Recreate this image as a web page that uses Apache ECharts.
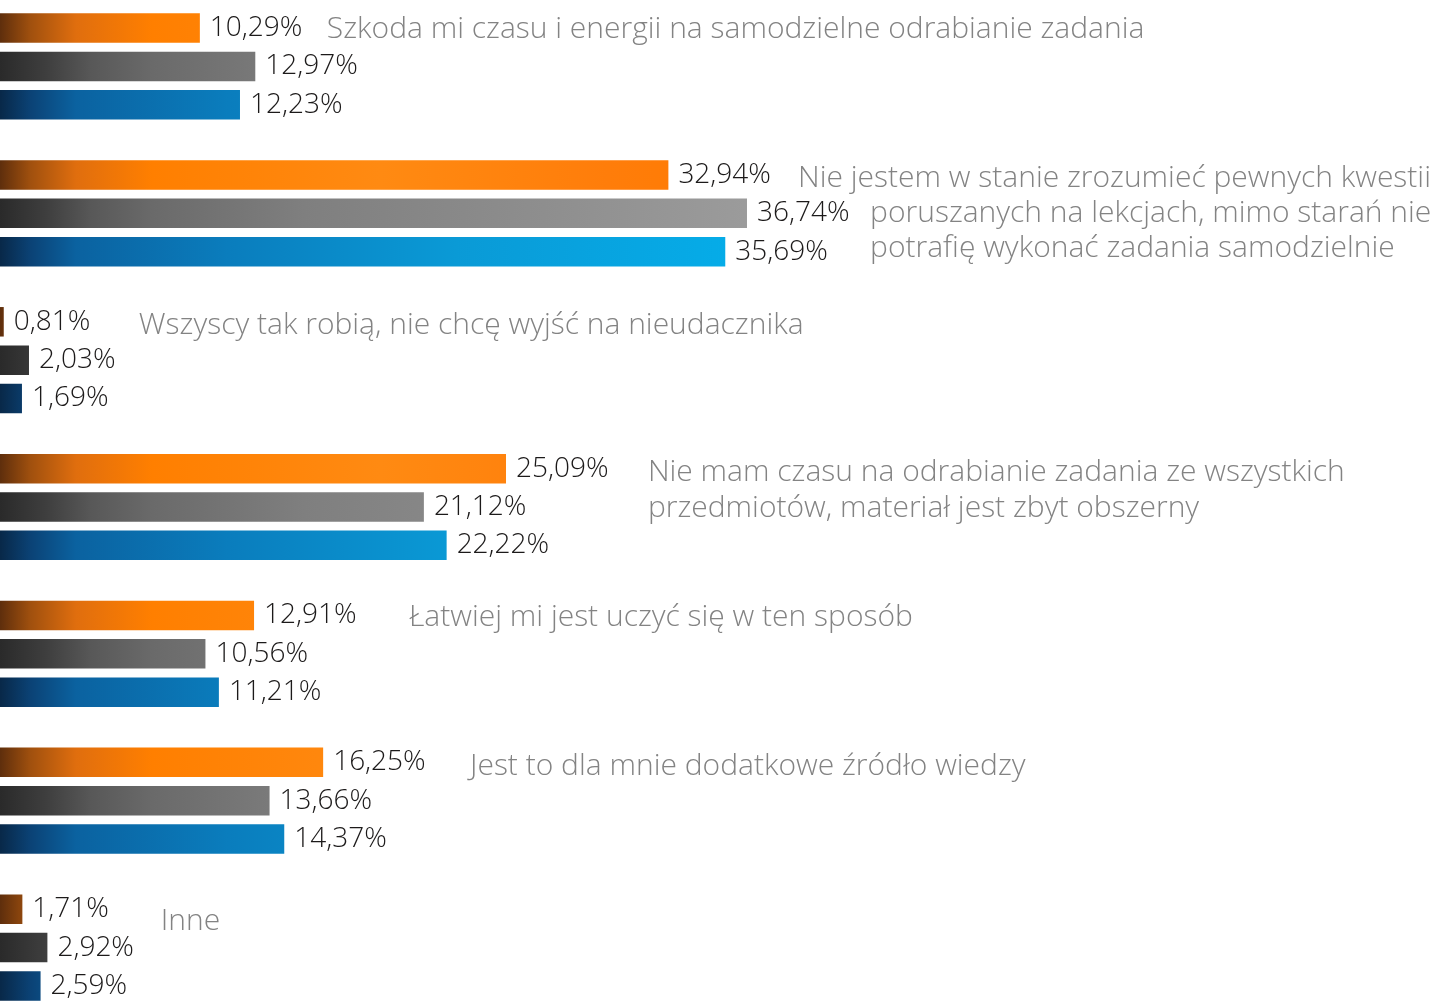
<!DOCTYPE html>
<html>
<head>
<meta charset="utf-8">
<script src="https://cdn.jsdelivr.net/npm/echarts@6/dist/echarts.min.js"></script>
<style>
  html, body { margin: 0; padding: 0; background: #ffffff; overflow: hidden; width: 1445px; height: 1001px; }
  /* bars run in from just beyond the left edge; the last band runs past the bottom */
  #chart { position: absolute; left: -13px; top: -7px; width: 1458px; height: 1028px; }
</style>
</head>
<body>
<div id="chart"></div>
<script>
// Answer categories (one band per answer)
const categories = ['Szkoda', 'Nie rozumiem', 'Wszyscy', 'Brak czasu', 'Łatwiej', 'Źródło wiedzy', 'Inne'];

// Shares in percent for the three respondent groups
const orangeValues = [10.29, 32.94, 0.81, 25.09, 12.91, 16.25, 1.71];
const grayValues   = [12.97, 36.74, 2.03, 21.12, 10.56, 13.66, 2.92];
const blueValues   = [12.23, 35.69, 1.69, 22.22, 11.21, 14.37, 2.59];

// Description text for each answer, one entry per printed line
const descriptions = [
  ['Szkoda mi czasu i energii na samodzielne odrabianie zadania'],
  ['Nie jestem w stanie zrozumieć pewnych kwestii',
   'poruszanych na lekcjach, mimo starań nie',
   'potrafię wykonać zadania samodzielnie'],
  ['Wszyscy tak robią, nie chcę wyjść na nieudacznika'],
  ['Nie mam czasu na odrabianie zadania ze wszystkich',
   'przedmiotów, materiał jest zbyt obszerny'],
  ['Łatwiej mi jest uczyć się w ten sposób'],
  ['Jest to dla mnie dodatkowe źródło wiedzy'],
  ['Inne']
];

// Where each description line starts: [x on the value axis, vertical shift from band centre in px]
const descriptionPlacement = [
  [[16.43, -37]],
  [[39.21, -35], [42.69, 0], [42.69, 35]],
  [[7.34, -35]],
  [[31.95, -35], [31.95, 1]],
  [[20.40, -36]],
  [[23.35, -34]],
  [[8.40, -26]]
];

const FONT = '"Open Sans", Lato, sans-serif';

function grad(stops) {
  // horizontal gradient fixed to the canvas, so short bars stay dark
  return new echarts.graphic.LinearGradient(13, 0, 773, 0,
    stops.map(s => ({ offset: s[0], color: s[1] })), true);
}

const orangeFill = grad([[0, '#5e2e0c'], [0.04, '#a0500e'], [0.1, '#e06e0e'], [0.2, '#ff7f00'], [0.5, '#ff8a12'], [0.8, '#ff7d0a'], [1, '#ff7a00']]);
const grayFill   = grad([[0, '#2a2a2a'], [0.06, '#3e3e3e'], [0.12, '#585858'], [0.2, '#6a6a6a'], [0.4, '#7f7f7f'], [0.8, '#929292'], [1, '#9c9c9c']]);
const blueFill   = grad([[0, '#082848'], [0.04, '#0b4275'], [0.1, '#0b62a0'], [0.3, '#0a7dbd'], [0.6, '#0a9ad6'], [1, '#05aeea']]);

function pct(v) {
  return v.toFixed(2).replace('.', ',') + '%';
}

function barSeries(name, values, fill) {
  return {
    name: name,
    type: 'bar',
    data: values,
    barWidth: 29.5,
    barGap: '30%',
    itemStyle: { color: fill },
    label: {
      show: true,
      position: 'right',
      distance: 10,
      formatter: p => pct(p.value),
      color: '#1c1a1a',
      fontFamily: FONT,
      fontWeight: 300,
      fontSize: 28
    },
    silent: true,
    animation: false
  };
}

const chart = echarts.init(document.getElementById('chart'), null, { renderer: 'canvas' });

chart.setOption({
  backgroundColor: '#ffffff',
  animation: false,
  grid: { left: 0, width: 1448, top: 0, height: 1028, containLabel: false },
  xAxis: {
    type: 'value', min: 0, max: 70,
    show: false
  },
  yAxis: {
    type: 'category', data: categories, inverse: true,
    show: false
  },
  series: [
    barSeries('grupa 1', orangeValues, orangeFill),
    barSeries('grupa 2', grayValues, grayFill),
    barSeries('grupa 3', blueValues, blueFill)
  ]
});

// Description lines, anchored to the axes
const texts = [];
descriptions.forEach((lines, i) => {
  lines.forEach((line, j) => {
    const [xv, dy] = descriptionPlacement[i][j];
    const pt = chart.convertToPixel({ gridIndex: 0 }, [xv, i]);
    texts.push({
      type: 'text',
      x: pt[0],
      y: pt[1] + dy,
      silent: true,
      style: {
        text: line,
        fill: '#838383',
        font: '300 30px ' + FONT,
        textAlign: 'left',
        textVerticalAlign: 'middle',
        align: 'left',
        verticalAlign: 'middle'
      }
    });
  });
});
chart.setOption({ graphic: texts });
</script>
</body>
</html>
